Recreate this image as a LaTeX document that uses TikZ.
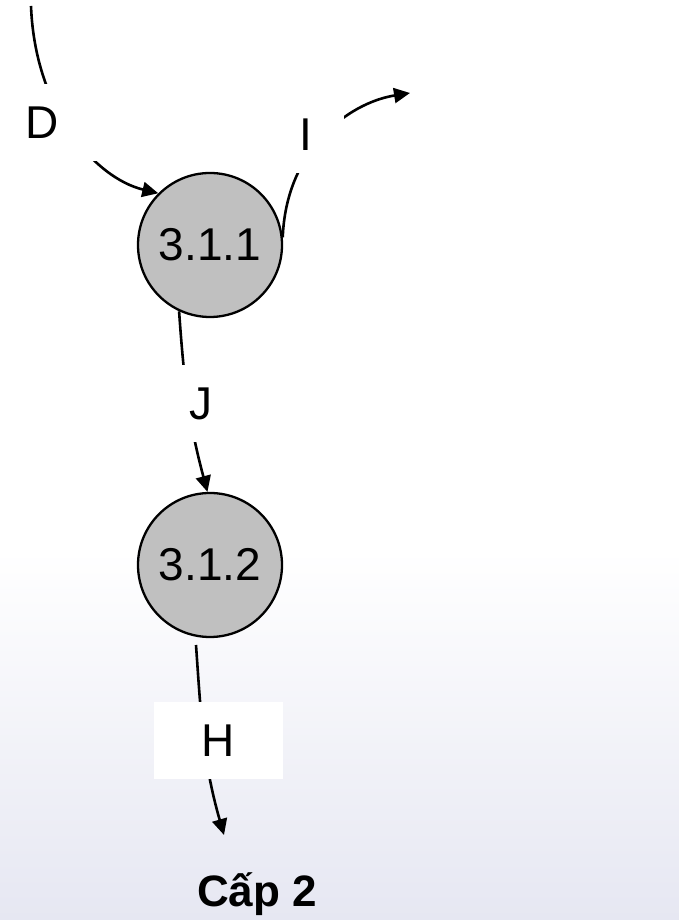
\documentclass[tikz,border=0pt]{standalone}
\usepackage{fontspec}
\setmainfont{Liberation Sans}
\usetikzlibrary{arrows.meta}
\definecolor{bubble}{RGB}{192,192,192}
\definecolor{floor}{RGB}{230,231,242}
\begin{document}
\begin{tikzpicture}[x=1pt,y=1pt,
  proc/.style={circle,draw=black,line width=2.3pt,fill=bubble,minimum size=144pt,
    inner sep=0pt,font=\fontsize{46}{50}\selectfont},
  flowlabel/.style={rectangle,fill=white,minimum width=129pt,minimum height=77pt,
    inner sep=0pt,font=\fontsize{46}{50}\selectfont},
  flow/.style={line width=2.6pt,-{Triangle[length=16pt,width=15pt]}}]
% page and soft floor gradient
\useasboundingbox (0,0) rectangle (679,920);
\fill[white] (0,0) rectangle (679,920);
\shade[top color=white,bottom color=floor] (0,0) rectangle (679,370);

% processes
\node[proc] (p311) at (210,675) {3.1.1};
\node[proc] (p312) at (210,355) {3.1.2};

% free ends of the flows
\coordinate (dsrc) at (31,914);
\coordinate (iout) at (410,827);
\coordinate (hsrc) at (196,275);
\coordinate (hdst) at (224,85);

% data flows
\draw[flow] (dsrc) .. controls (35,810) and (95,742) .. (p311.135);
\draw[flow] (p311.6) .. controls (286,770) and (348,817) .. (iout);
\draw[flow] (p311.245) to[out=-86,in=105] (p312.92);
\draw[flow] (hsrc) to[out=-86,in=106] (hdst);

% flow labels
\node[flowlabel] (lD) at (42,797) {D};
\node[flowlabel,minimum width=76pt] (lI) at (306,785) {I};
\node[flowlabel] (lJ) at (201,516) {J};
\node[flowlabel] (lH) at (218,179.5) {H};

% level caption
\node[font=\bfseries\fontsize{44}{48}\selectfont,anchor=base,inner sep=0pt] (lvl) at (257,13) {Cấp 2};
\end{tikzpicture}
\end{document}
